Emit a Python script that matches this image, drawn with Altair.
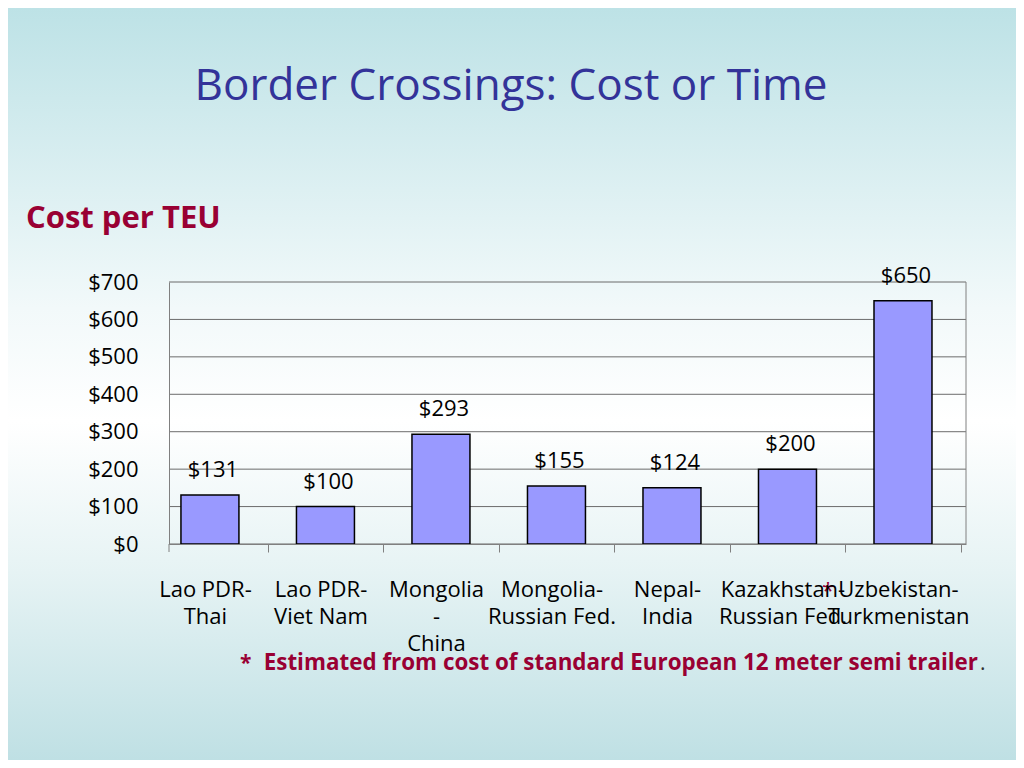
import altair as alt
import pandas as pd

routes = ["Lao PDR-|Thai", "Lao PDR-|Viet Nam", "Mongolia|-|China",
          "Mongolia-|Russian Fed.", "Nepal-|India", "Kazakhstan-|Russian Fed.",
          "Uzbekistan-|Turkmenistan"]
costs = [131, 100, 293, 155, 150, 200, 650]
cost_labels = ["$131", "$100", "$293", "$155", "$124", "$200", "$650"]
y_ticks = [0, 100, 200, 300, 400, 500, 600, 700]

FONT = "Open Sans"
RED = "#990033"
BLUE = "#333399"
GRID = "#6b6b6b"
W, H = 797, 262
PL, PT, PR, PB = 161, 274, 50, 216

df = pd.DataFrame({"route": routes, "cost": costs, "label": cost_labels})
grid_df = pd.DataFrame({"v": y_ticks})

yscale = alt.Scale(domain=[0, 700], nice=False)
yaxis = alt.Axis(title=None, values=y_ticks, format="$.0f", labelFont=FONT,
                 labelFontSize=22, labelColor="black", labelOverlap=False,
                 labelBound=False, tickSize=0, labelPadding=31,
                 domainColor="#808080", grid=False, zindex=1)
xscale = alt.Scale(paddingInner=0.498, paddingOuter=0.199, align=0.26)
xaxis = alt.Axis(title=None, labelExpr="split(datum.label, '|')",
                 labelAngle=0, labelFont=FONT, labelFontSize=22,
                 labelColor="black", labelLineHeight=27,
                 labelPadding=27, bandPosition=1, tickOffset=28.8,
                 labelOffset=-33.8, tickSize=8, labelOverlap=False,
                 tickColor="#808080", domainColor="#808080",
                 labelBaseline="top", zindex=1)

one = pd.DataFrame({"k": [0]})

bg = alt.Chart(one).mark_rect(
    color=alt.LinearGradient(
        gradient="linear", x1=0, y1=0, x2=0, y2=1,
        stops=[alt.GradientStop(color="#bde2e6", offset=0),
               alt.GradientStop(color="#f2f9fa", offset=0.4),
               alt.GradientStop(color="#ffffff", offset=0.55),
               alt.GradientStop(color="#e6f3f4", offset=0.75),
               alt.GradientStop(color="#bfe0e4", offset=1)]),
).encode(x=alt.value(-PL), x2=alt.value(W + PR), y=alt.value(-PT), y2=alt.value(H + PB))

grid = alt.Chart(grid_df).mark_rule(color=GRID, strokeWidth=1).encode(
    y=alt.Y("v:Q", scale=yscale, axis=yaxis))

frame = alt.Chart(one).mark_rule(color="#808080", strokeWidth=1).encode(
    x=alt.value(W), y=alt.value(0), y2=alt.value(H))

left_tick = alt.Chart(one).mark_rule(color="#808080", strokeWidth=1).encode(
    x=alt.value(0), y=alt.value(H), y2=alt.value(H + 8))

bars = alt.Chart(df).mark_bar(color="#9999ff", stroke="black", strokeWidth=1.5).encode(
    x=alt.X("route:N", sort=routes, scale=xscale, axis=xaxis),
    y=alt.Y("cost:Q", scale=yscale, axis=yaxis))

vals = alt.Chart(df).mark_text(font=FONT, fontSize=22, color="black",
                               baseline="bottom", dy=-13, dx=3).encode(
    x=alt.X("route:N", sort=routes, scale=xscale, axis=xaxis),
    y=alt.Y("cost:Q", scale=yscale, axis=yaxis), text="label:N")

def txt(s, x, y, **kw):
    return alt.Chart(pd.DataFrame({"t": [s]})).mark_text(font=FONT, **kw).encode(
        text="t:N", x=alt.value(x), y=alt.value(y))

title = txt("Border Crossings: Cost or Time", 342, -182, fontSize=44, color=BLUE,
            align="center", baseline="alphabetic")
sub = txt("Cost per TEU", -143, -54, fontSize=31, fontWeight="bold", color=RED,
          align="left", baseline="alphabetic")
star = txt("*", 71, 388, fontSize=21, fontWeight="bold", color=RED,
           align="left", baseline="alphabetic")
note = txt("Estimated from cost of standard European 12 meter semi trailer", 809, 388,
           fontSize=22.4, fontWeight="bold", color=RED, align="right", baseline="alphabetic")
dot = txt(".", 811, 388, fontSize=21, color="#333333", align="left", baseline="alphabetic")
star2 = txt("*", 659, 316, fontSize=22, color=RED, align="center", baseline="alphabetic")

chart = alt.layer(bg, grid, frame, left_tick, bars, vals, title, sub, star, note, dot,
                  star2).properties(
    width=W, height=H,
    autosize=alt.AutoSizeParams(type="none"),
    padding={"left": PL, "top": PT, "right": PR, "bottom": PB},
).configure_view(stroke=None).configure_axisY(labelOverlap=False).configure(
    background="white")

chart.save("out.html", embed_options={"renderer": "svg", "actions": False})
